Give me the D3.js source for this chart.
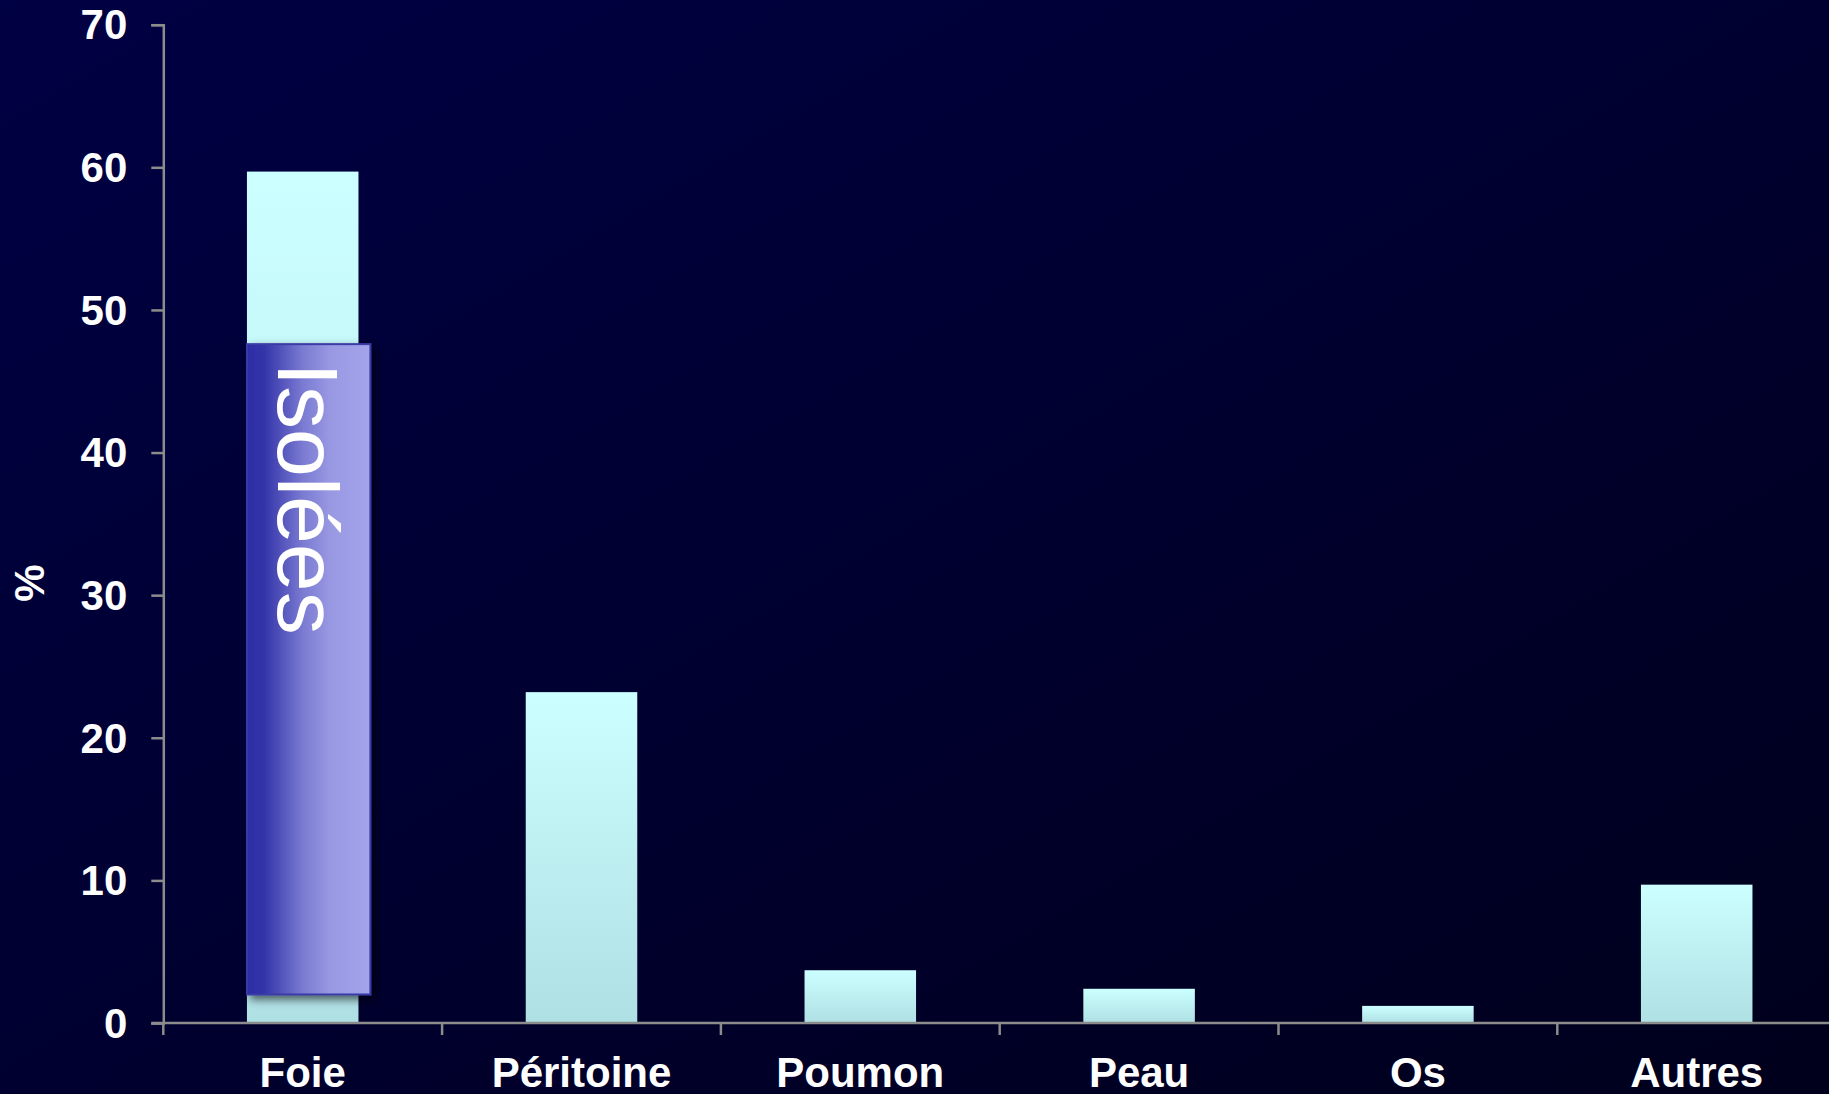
<!DOCTYPE html>
<html>
<head>
<meta charset="utf-8">
<script src="https://cdn.jsdelivr.net/npm/d3@7"></script>
<style>
  html, body { margin: 0; padding: 0; background: #000033; overflow: hidden; }
  svg { display: block; }
</style>
</head>
<body>
<svg id="chart" width="1829" height="1094"></svg>
<script>
// ---- data ----
const categories = ["Foie", "Péritoine", "Poumon", "Peau", "Os", "Autres"];
const values = [59.7, 23.2, 3.7, 2.4, 1.2, 9.7];
const yTicks = [0, 10, 20, 30, 40, 50, 60, 70];
const yLabel = "%";
// annotation box "Isolées" over the Foie bar (in data units)
const isolatedCategory = "Foie";
const isolatedRange = [2.0, 47.6];
const isolatedLabel = "Isolées";

// ---- layout ----
const W = 1829, H = 1094;
const x0 = 163.3, yZero = 1023, yTop = 24.7;
const step = 278.8;
const svg = d3.select("#chart");
const defs = svg.append("defs");

const bg = defs.append("linearGradient").attr("id", "bg")
  .attr("x1", 0).attr("y1", 0).attr("x2", 1).attr("y2", 1);
bg.append("stop").attr("offset", "0%").attr("stop-color", "#000044");
bg.append("stop").attr("offset", "100%").attr("stop-color", "#00001c");

const barG = defs.append("linearGradient").attr("id", "barGrad")
  .attr("x1", 0).attr("y1", 0).attr("x2", 0).attr("y2", 1);
barG.append("stop").attr("offset", "0%").attr("stop-color", "#ccffff");
barG.append("stop").attr("offset", "100%").attr("stop-color", "#afe0e4");

const boxG = defs.append("linearGradient").attr("id", "boxGrad")
  .attr("x1", 0).attr("y1", 0).attr("x2", 1).attr("y2", 0);
boxG.append("stop").attr("offset", "0%").attr("stop-color", "#2c2ca4");
boxG.append("stop").attr("offset", "14%").attr("stop-color", "#3434aa");
boxG.append("stop").attr("offset", "45%").attr("stop-color", "#7a7ad2");
boxG.append("stop").attr("offset", "68%").attr("stop-color", "#9999e3");
boxG.append("stop").attr("offset", "100%").attr("stop-color", "#a4a4ec");

const shadow = defs.append("filter").attr("id", "shadow")
  .attr("x", "-20%").attr("y", "-5%").attr("width", "150%").attr("height", "115%");
shadow.append("feDropShadow").attr("dx", 4).attr("dy", 4).attr("stdDeviation", 4)
  .attr("flood-color", "#000000").attr("flood-opacity", 0.6);

svg.append("rect").attr("width", W).attr("height", H).attr("fill", "url(#bg)");

const x = d3.scaleBand().domain(categories)
  .range([x0, x0 + step * categories.length]).paddingInner(0).paddingOuter(0);
const y = d3.scaleLinear().domain([0, 70]).range([yZero, yTop]);
const barW = step * 0.4;

// bars
svg.append("g").selectAll("rect").data(categories).join("rect")
  .attr("x", (d) => x(d) + x.bandwidth() / 2 - barW / 2)
  .attr("y", (d, i) => y(values[i]))
  .attr("width", barW)
  .attr("height", (d, i) => y(0) - y(values[i]))
  .attr("fill", "url(#barGrad)");

// y axis
const yAxis = svg.append("g").attr("transform", `translate(${x0},0)`)
  .call(d3.axisLeft(y).tickValues(yTicks).tickSize(12).tickPadding(24).tickFormat(d3.format("d")));
yAxis.select(".domain").attr("stroke", "#8c8c8c").attr("stroke-width", 2.5);
yAxis.selectAll(".tick line").attr("stroke", "#8c8c8c").attr("stroke-width", 2.5);
yAxis.selectAll(".tick text")
  .attr("fill", "#ffffff")
  .attr("font-family", "'Liberation Sans', Arial, sans-serif")
  .attr("font-weight", "bold")
  .attr("font-size", 42)
  .attr("dy", "0.34em");

// x axis: line + boundary ticks + centered labels
const xAxisG = svg.append("g");
const xr = x.range();
xAxisG.append("line")
  .attr("x1", x0 - 12).attr("x2", W + 20)
  .attr("y1", y(0)).attr("y2", y(0))
  .attr("stroke", "#8c8c8c").attr("stroke-width", 2.5);
const boundaries = d3.range(categories.length + 1).map((i) => xr[0] + i * x.step());
xAxisG.selectAll("line.tick").data(boundaries).join("line")
  .attr("class", "tick")
  .attr("x1", (d) => d).attr("x2", (d) => d)
  .attr("y1", y(0)).attr("y2", y(0) + 12)
  .attr("stroke", "#8c8c8c").attr("stroke-width", 2.5);
xAxisG.selectAll("text").data(categories).join("text")
  .attr("x", (d) => x(d) + x.bandwidth() / 2)
  .attr("y", y(0) + 64)
  .attr("text-anchor", "middle")
  .attr("fill", "#ffffff")
  .attr("font-family", "'Liberation Sans', Arial, sans-serif")
  .attr("font-weight", "bold")
  .attr("font-size", 42)
  .text((d) => d);

// y label
svg.append("text")
  .attr("transform", `translate(${44},${583}) rotate(-90)`)
  .attr("text-anchor", "middle")
  .attr("fill", "#ffffff")
  .attr("font-family", "'Liberation Sans', Arial, sans-serif")
  .attr("font-weight", "bold")
  .attr("font-size", 42)
  .text(yLabel);

// annotation box
const bx = x(isolatedCategory) + x.bandwidth() / 2 - barW / 2;
const bw = barW * 1.107;
const byTop = y(isolatedRange[1]), byBot = y(isolatedRange[0]);
svg.append("rect")
  .attr("x", bx).attr("y", byTop)
  .attr("width", bw).attr("height", byBot - byTop)
  .attr("fill", "url(#boxGrad)")
  .attr("stroke", "#3a3aa6").attr("stroke-width", 2)
  .attr("filter", "url(#shadow)");
const fs = 86;
const cx = bx + bw / 2;
svg.append("text")
  .attr("transform", `translate(${cx - 0.716 * fs / 2},${byTop + 18}) rotate(90)`)
  .attr("fill", "#ffffff")
  .attr("font-family", "'Liberation Sans', Arial, sans-serif")
  .attr("font-size", fs)
  .text(isolatedLabel);
</script>
</body>
</html>
